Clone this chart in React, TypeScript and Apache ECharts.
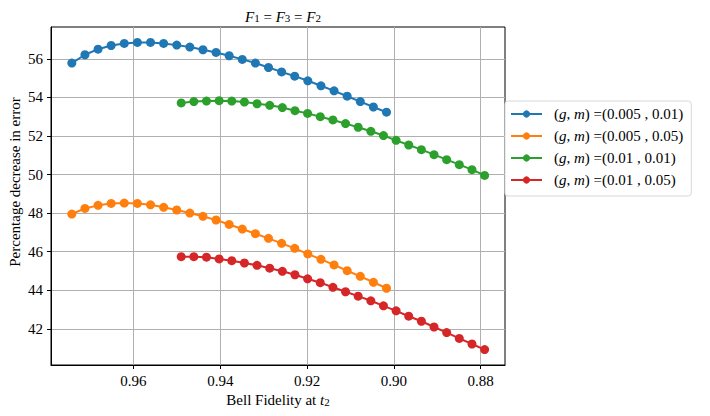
import React, { useEffect, useRef } from "react";
import * as echarts from "echarts";

const xHigh = [0.9742, 0.97118, 0.96816, 0.96514, 0.96212, 0.9591, 0.95607, 0.95305, 0.95003, 0.94701, 0.94399, 0.94097, 0.93795, 0.93493, 0.93191, 0.92889, 0.92587, 0.92285, 0.91983, 0.9168, 0.91378, 0.91076, 0.90774, 0.90472, 0.9017];
const xLow = [0.949, 0.94609, 0.94318, 0.94026, 0.93735, 0.93444, 0.93153, 0.92861, 0.9257, 0.92279, 0.91988, 0.91696, 0.91405, 0.91114, 0.90823, 0.90531, 0.9024, 0.89949, 0.89658, 0.89366, 0.89075, 0.88784, 0.88493, 0.88201, 0.8791];

const blueY = [55.78, 56.21, 56.5, 56.69, 56.8, 56.85, 56.85, 56.8, 56.71, 56.61, 56.47, 56.33, 56.16, 55.97, 55.78, 55.55, 55.32, 55.1, 54.86, 54.6, 54.34, 54.06, 53.78, 53.5, 53.23];
const orangeY = [47.95, 48.24, 48.4, 48.5, 48.52, 48.5, 48.43, 48.3, 48.16, 48.0, 47.83, 47.64, 47.41, 47.17, 46.93, 46.69, 46.43, 46.17, 45.88, 45.6, 45.31, 45.01, 44.72, 44.41, 44.1];
const greenY = [53.71, 53.78, 53.81, 53.83, 53.81, 53.76, 53.67, 53.59, 53.47, 53.31, 53.17, 53.0, 52.83, 52.64, 52.45, 52.24, 52.02, 51.77, 51.53, 51.29, 51.03, 50.77, 50.51, 50.25, 49.95];
const redY = [45.74, 45.74, 45.71, 45.62, 45.53, 45.41, 45.29, 45.14, 44.98, 44.8, 44.59, 44.39, 44.15, 43.92, 43.69, 43.45, 43.19, 42.93, 42.65, 42.39, 42.09, 41.8, 41.5, 41.21, 40.92];

const seriesNames = [
  "(g, m) =(0.005 , 0.01)",
  "(g, m) =(0.005 , 0.05)",
  "(g, m) =(0.01 , 0.01)",
  "(g, m) =(0.01 , 0.05)",
];
const colors = ["#1f77b4", "#ff7f0e", "#2ca02c", "#d62728"];
const xTicks = [0.88, 0.9, 0.92, 0.94, 0.96];
const yTicks = [42, 44, 46, 48, 50, 52, 54, 56];

const FONT = "'Liberation Serif', 'DejaVu Serif', serif";
const FS = 15;

export default function App() {
  const ref = useRef<HTMLDivElement>(null);
  useEffect(() => {
    if (!ref.current) return;
    const chart = echarts.init(ref.current, undefined, { renderer: "svg" });
    const pairs = [
      [xHigh, blueY],
      [xHigh, orangeY],
      [xLow, greenY],
      [xLow, redY],
    ];
    const italic = { fontFamily: FONT, fontStyle: "italic", fontSize: FS, color: "#000" };
    const sub = { fontFamily: FONT, fontSize: 11, color: "#000", padding: [0, 0, -3, 0] };
    chart.setOption({
      animation: false,
      backgroundColor: "#ffffff",
      title: {
        text: "{i|F}{s|1} = {i|F}{s|3} = {i|F}{s|2}",
        left: 278,
        textAlign: "center",
        top: 4,
        textStyle: {
          fontFamily: FONT,
          fontSize: FS,
          fontWeight: "normal",
          color: "#000",
          rich: { i: italic, s: sub },
        },
      },
      grid: {
        left: 51,
        right: 205,
        top: 27,
        bottom: 51,
        show: true,
        borderColor: "#000",
        borderWidth: 1,
        backgroundColor: "transparent",
        containLabel: false,
        outerBoundsMode: "none",
      },
      legend: {
        orient: "vertical",
        left: 505,
        top: 101,
        padding: [5, 8, 8, 5],
        itemWidth: 31,
        itemHeight: 9,
        itemGap: 6,
        backgroundColor: "#fff",
        borderColor: "#d8d8d8",
        borderWidth: 1,
        borderRadius: 3,
        data: seriesNames,
        formatter: (name: string) => name.replace("(g, m)", "({i|g}, {i|m})"),
        textStyle: {
          fontFamily: FONT,
          fontSize: FS,
          lineHeight: 16,
          color: "#000",
          padding: [0, 0, 0, 7],
          rich: { i: { ...italic, lineHeight: 16 } },
        },
      },
      xAxis: {
        type: "value",
        inverse: true,
        min: 0.8744,
        max: 0.979,
        name: "Bell Fidelity at {i|t}{s|2}",
        nameLocation: "middle",
        nameGap: 19,
        nameTextStyle: { fontFamily: FONT, fontSize: FS, color: "#000", rich: { i: italic, s: sub } },
        axisLine: { show: true, lineStyle: { color: "#000", width: 1 } },
        axisTick: { show: true, length: 4, customValues: xTicks, lineStyle: { color: "#000" } },
        axisLabel: {
          customValues: xTicks,
          formatter: (v: number) => v.toFixed(2),
          fontFamily: FONT,
          fontSize: FS,
          color: "#000",
          margin: 8,
        },
        splitLine: { show: true, lineStyle: { color: "#b0b0b0", width: 1 } },
      },
      yAxis: {
        type: "value",
        min: 40.12,
        max: 57.65,
        name: "Percentage decrease in error",
        nameLocation: "middle",
        nameGap: 29,
        nameMoveOverlap: false,
        nameTextStyle: { fontFamily: FONT, fontSize: FS, color: "#000", padding: [0, 0, 0, 28] },
        axisLine: { show: true, lineStyle: { color: "#000", width: 1 } },
        axisTick: { show: true, length: 4, customValues: yTicks, lineStyle: { color: "#000" } },
        axisLabel: {
          customValues: yTicks,
          formatter: (v: number) => String(Math.round(v)),
          fontFamily: FONT,
          fontSize: FS,
          color: "#000",
          margin: 8,
        },
        splitLine: { show: true, lineStyle: { color: "#b0b0b0", width: 1 } },
      },
      series: seriesNames.map((name, k) => ({
        name,
        type: "line",
        data: pairs[k][0].map((x, i) => [x, pairs[k][1][i]]),
        symbol: "circle",
        symbolSize: 9,
        showSymbol: true,
        lineStyle: { color: colors[k], width: 2 },
        itemStyle: { color: colors[k] },
        z: 3 + k,
      })),
    });
    return () => chart.dispose();
  }, []);
  return (
    <div
      ref={ref}
      style={{ position: "fixed", left: 0, top: 0, width: 710, height: 416 }}
    />
  );
}
